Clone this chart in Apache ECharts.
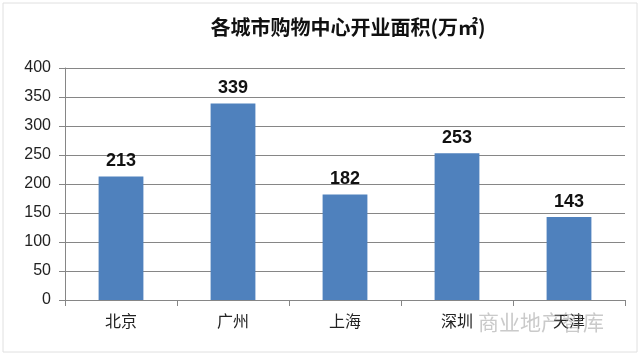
<!DOCTYPE html>
<html><head><meta charset="utf-8">
<script src="https://cdn.jsdelivr.net/npm/echarts@6/dist/echarts.min.js"></script>
<style>html,body{margin:0;padding:0;background:#fff}#c{width:640px;height:355px}</style>
</head><body><div id="c"></div>
<script>
const categories = ['北京', '广州', '上海', '深圳', '天津'];
const areaValues = [213, 339, 182, 253, 143];
const yTicks = [0, 50, 100, 150, 200, 250, 300, 350, 400];
const titleText = '各城市购物中心开业面积(万㎡)';

const chart = echarts.init(document.getElementById('c'));
chart.setOption({
  backgroundColor: '#fff',
  animation: false,
  title: {
    text: titleText, left: 343, top: 12, textAlign: 'center',
    textStyle: { fontFamily: 'Noto Sans CJK SC', fontSize: 20, fontWeight: 'bold', color: '#111' }
  },
  grid: { left: 65, right: 15, top: 68, bottom: 55 },
  xAxis: {
    type: 'category', data: categories,
    axisLine: { lineStyle: { color: '#868686' } },
    axisTick: { show: true, length: 6, alignWithLabel: false, lineStyle: { color: '#868686' } },
    axisLabel: { fontFamily: 'Noto Sans CJK SC', fontSize: 16, color: '#222', margin: 13 }
  },
  yAxis: {
    type: 'value', min: yTicks[0], max: yTicks[yTicks.length - 1], interval: 50,
    axisLine: { show: true, lineStyle: { color: '#868686' } },
    axisTick: { show: true, length: 6, lineStyle: { color: '#868686' } },
    axisLabel: { fontFamily: 'Liberation Sans', fontSize: 16, color: '#222', margin: 14 },
    splitLine: { lineStyle: { color: '#868686' } }
  },
  series: [{
    type: 'bar', data: areaValues, barWidth: '40%',
    itemStyle: { color: '#4F81BD' },
    label: { show: true, position: 'top', distance: 6, fontFamily: 'Liberation Sans', fontSize: 18, fontWeight: 'bold', color: '#111' }
  }],
  graphic: [
    { type: 'rect', shape: { x: 3, y: 3, width: 634, height: 349 }, style: { fill: 'none', stroke: '#e0e0e0', lineWidth: 1 }, silent: true },
    { type: 'text', left: 478, top: 312, style: { text: '商业地产智库', font: '21px "Noto Sans CJK SC"', fill: 'rgba(150,150,150,0.5)' }, z: 100 }
  ]
});
</script></body></html>
